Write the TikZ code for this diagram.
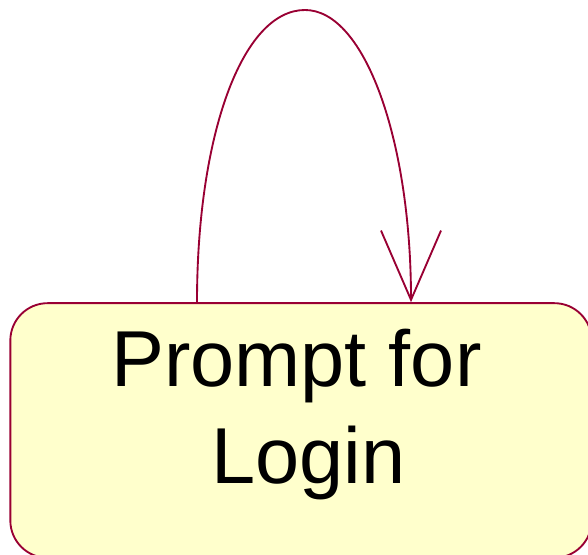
\documentclass[tikz,border=0pt]{standalone}
\usepackage{fontspec}
\setmainfont{Liberation Sans}
\usetikzlibrary{arrows.meta}

\definecolor{stateBorder}{HTML}{990033}
\definecolor{stateFill}{HTML}{FFFFCC}
\providecommand{\statefontsize}{59.5pt}
\providecommand{\stateskip}{72.5pt}
\providecommand{\edgethickness}{1.4pt}

\begin{document}
\begin{tikzpicture}[
    x=0.75pt, y=-0.75pt,
    % State box
    state_box/.style={
        rectangle,
        rounded corners=28pt,
        draw=stateBorder,
        fill=stateFill,
        line width=\edgethickness,
        minimum width=436pt,
        minimum height=191pt,
        inner sep=0pt
    },
    state_label/.style={
        align=center,
        inner sep=0pt,
        font=\fontsize{\statefontsize}{\stateskip}\selectfont
    },
    % Transition edge
    self_edge/.style={
        draw=stateBorder,
        line width=\edgethickness,
        -{Straight Barb[length=52pt,width=45pt,line width=\edgethickness]}
    }
]
    \useasboundingbox (0,0) rectangle (588,555);

    % ==================== STATE ====================
    \node[state_box] (login) at (301,430.5) {};
    % lines are set a little off centre, as in the state box
    \node[state_label] (loginlabel) at ([yshift=12pt]login.center)
        {Prompt for\hspace*{7pt}\\\hspace*{11pt}Login};

    % ==================== SELF TRANSITION ====================
    \coordinate (loopout) at ([xshift=-78pt]login.north);
    \coordinate (loopin)  at ([xshift=82.5pt]login.north);
    \coordinate (looptop) at (305,10);

    \draw[self_edge] (loopout)
        .. controls ([yshift=125pt]loopout) and (242,10) .. (looptop)
        .. controls (365,10) and ([yshift=121pt]loopin) .. (loopin);

\end{tikzpicture}
\end{document}
